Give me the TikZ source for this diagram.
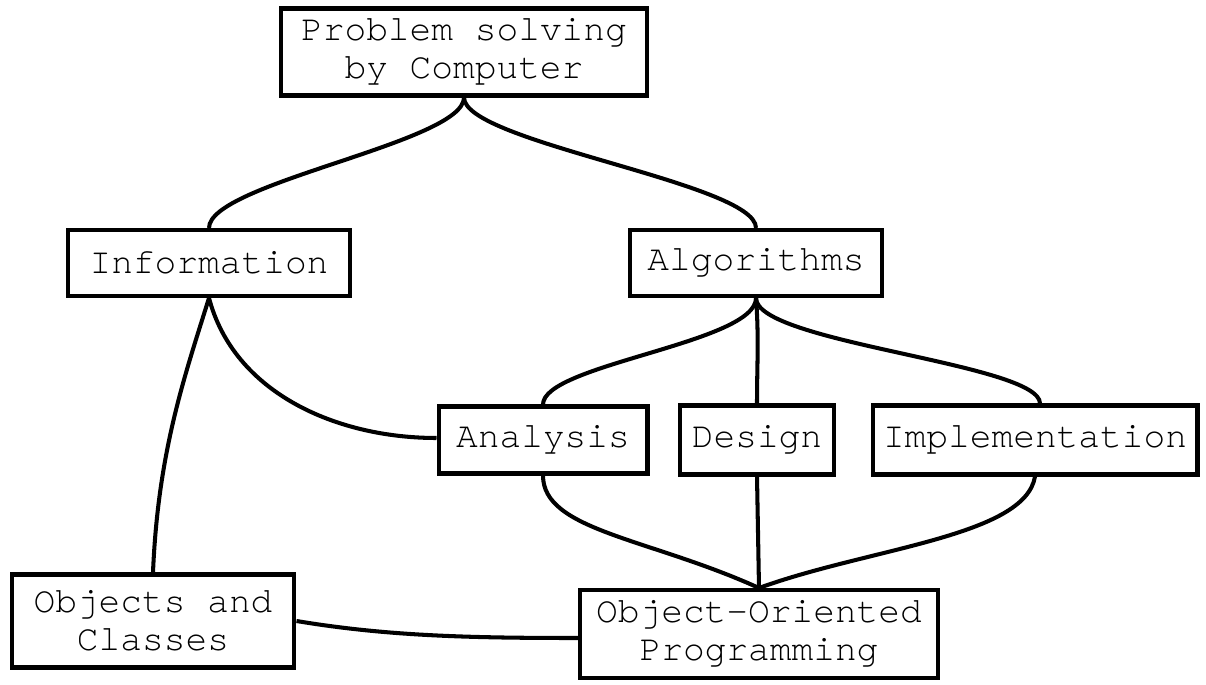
\documentclass[tikz,border=0pt]{standalone}
\usepackage{fontspec}
\newfontfamily\boxfont{TeX Gyre Cursor}
\begin{document}
\begin{tikzpicture}[x=0.02cm,y=-0.02cm,
  box/.style={draw,line width=2.3pt,inner sep=0pt,align=center,
    font=\boxfont\fontsize{20.6pt}{21.8pt}\selectfont},
  link/.style={line width=2.3pt}]
\useasboundingbox (0,0) rectangle (1206,685);

% boxes
\node[box,minimum width=7.34cm,minimum height=1.74cm] (prob) at (464,52) {Problem solving\\by Computer};
\node[box,minimum width=5.64cm,minimum height=1.32cm] (info) at (209,263) {Information};
\node[box,minimum width=5.04cm,minimum height=1.32cm] (algo) at (756,263) {Algorithms};
\node[box,minimum width=4.18cm,minimum height=1.34cm] (ana) at (543,440) {Analysis};
\node[box,minimum width=3.08cm,minimum height=1.38cm] (des) at (757,440) {Design};
\node[box,minimum width=6.50cm,minimum height=1.38cm] (impl) at (1035,440) {Implementation};
\node[box,minimum width=5.66cm,minimum height=1.86cm] (obj) at (153,621) {Objects and\\Classes};
\node[box,minimum width=7.16cm,minimum height=1.76cm] (oop) at (759,634) {Object-Oriented\\Programming};

% top level branches
\draw[link] (prob.south) .. controls +(0,45) and +(0,-45) .. (info.north);
\draw[link] (prob.south) .. controls +(0,45) and +(0,-45) .. (algo.north);

% information branches
\draw[link] (info.south) .. controls +(25,95) and +(-100,0) .. ([yshift=0.04cm]ana.west);
\draw[link] (info.south) .. controls +(-25,80) and +(5,-120) .. (obj.north);

% algorithm branches
\draw[link] (algo.south) .. controls +(0,45) and +(0,-40) .. (ana.north);
\draw[link] (algo.south) .. controls +(3,40) and +(0,-40) .. (des.north);
\draw[link] (algo.south) .. controls +(0,45) and +(0,-40) .. ([xshift=0.1cm]impl.north);

% into object-oriented programming
\draw[link] (ana.south) .. controls +(0,55) and +(-110,-50) .. (oop.north);
\draw[link] (des.south) -- (oop.north);
\draw[link] (impl.south) .. controls +(-10,60) and +(110,-40) .. (oop.north);
\draw[link] (obj.east) .. controls +(90,15) and +(-110,0) .. ([yshift=-0.08cm]oop.west);
\end{tikzpicture}
\end{document}
